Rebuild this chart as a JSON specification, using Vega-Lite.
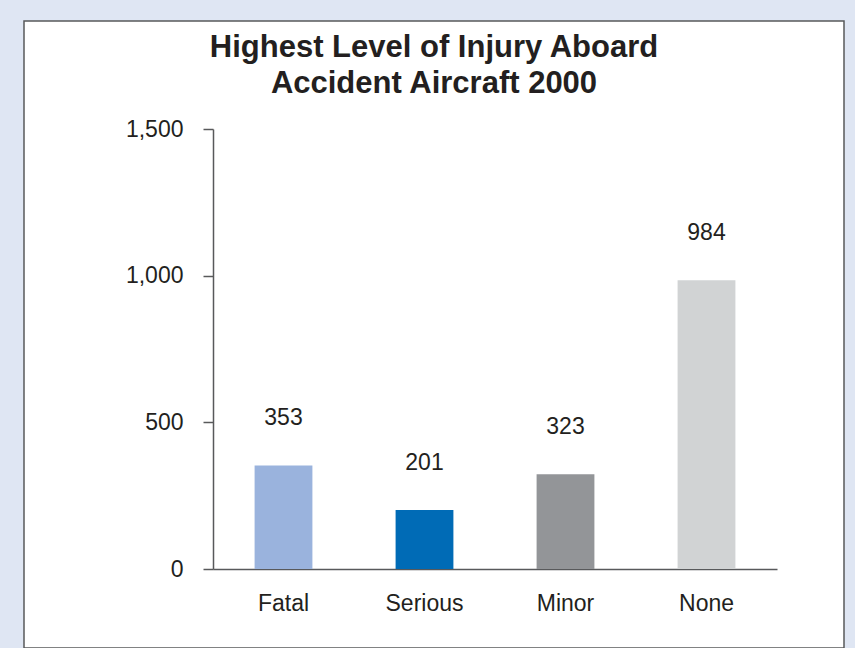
{
  "$schema": "https://vega.github.io/schema/vega-lite/v6.json",
  "autosize": "none",
  "width": 820,
  "height": 627,
  "padding": {"left": 24, "top": 21, "right": 11, "bottom": 0},
  "background": "#dfe6f3",
  "config": {
    "font": "Liberation Sans",
    "view": {"fill": "white", "stroke": "#58595b", "strokeWidth": 1.5}
  },
  "title": {
    "text": ["Highest Level of Injury Aboard", "Accident Aircraft 2000"],
    "fontSize": 31,
    "fontWeight": "bold",
    "color": "#231f20",
    "lineHeight": 36,
    "anchor": "middle",
    "frame": "group",
    "offset": -79
  },
  "data": {
    "values": [
      {"level": "Fatal", "count": 353},
      {"level": "Serious", "count": 201},
      {"level": "Minor", "count": 323},
      {"level": "None", "count": 984}
    ]
  },
  "encoding": {
    "x": {
      "field": "level",
      "type": "nominal",
      "sort": null,
      "scale": {"range": [189, 753], "paddingInner": 0.59, "paddingOuter": 0.295},
      "axis": {
        "title": null,
        "labelAngle": 0,
        "ticks": false,
        "labelFontSize": 23,
        "labelColor": "#231f20",
        "labelPadding": 23,
        "domainColor": "#58595b",
        "domainWidth": 1.5,
        "offset": -79
      }
    },
    "y": {
      "field": "count",
      "type": "quantitative",
      "scale": {"domain": [0, 1500], "range": [548, 108], "nice": false},
      "axis": {
        "title": null,
        "values": [0, 500, 1000, 1500],
        "format": ",.0f",
        "grid": false,
        "tickSize": 10,
        "tickColor": "#58595b",
        "tickWidth": 1.5,
        "domainColor": "#58595b",
        "domainWidth": 1.5,
        "labelFontSize": 23,
        "labelColor": "#231f20",
        "labelPadding": 20,
        "offset": -189
      }
    }
  },
  "layer": [
    {
      "mark": {"type": "bar"},
      "encoding": {
        "color": {
          "field": "level",
          "type": "nominal",
          "scale": {"domain": ["Fatal", "Serious", "Minor", "None"], "range": ["#9ab3dd", "#006bb6", "#939598", "#d1d3d4"]},
          "legend": null
        }
      }
    },
    {
      "mark": {"type": "text", "dy": -40, "baseline": "alphabetic", "fontSize": 23, "color": "#231f20"},
      "encoding": {
        "text": {"field": "count", "type": "quantitative", "format": ",.0f"}
      }
    }
  ]
}
